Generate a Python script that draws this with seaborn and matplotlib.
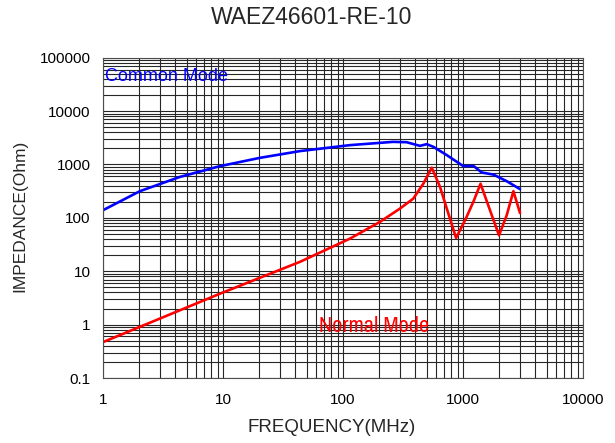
import numpy as np
import pandas as pd
import matplotlib
matplotlib.use("Agg")
import matplotlib.pyplot as plt
import matplotlib.ticker as mticker
from matplotlib import font_manager
import seaborn as sns

# ------------------------------------------------------------
# data (frequency in MHz, impedance in Ohm)
# ------------------------------------------------------------
cm_freq = [1, 2.03, 4.38, 9.44, 20.3, 43.8, 114, 261, 339, 438, 498, 566,
           731, 1006, 1220, 1432, 1790, 2313, 2985]
cm_imp = [139, 316, 585, 930, 1330, 1780, 2300, 2650, 2610, 2230, 2400, 2140,
          1500, 929, 942, 707, 646, 486, 345]

nm_freq = [1, 9.44, 43.8, 114, 203, 298, 385, 467, 549, 643, 755, 875,
           1040, 1220, 1400, 1680, 1995, 2313, 2630, 2985]
nm_imp = [0.47, 3.8, 15, 40.7, 84, 149, 229, 436, 870, 380, 120, 42,
          90, 200, 436, 138, 47, 112, 316, 123]

title = "WAEZ46601-RE-10"
x_label = "FREQUENCY(MHz)"
y_label = "IMPEDANCE(Ohm)"

df = pd.concat([
    pd.DataFrame({"freq": cm_freq, "imp": cm_imp, "mode": "Common Mode"}),
    pd.DataFrame({"freq": nm_freq, "imp": nm_imp, "mode": "Normal Mode"}),
])

sns.set_theme(style="white")
plt.rcParams["font.family"] = ["Liberation Sans", "DejaVu Sans"]

# narrow face for the "Normal Mode" label, if one is installed
names = sorted({f.name for f in font_manager.fontManager.ttflist})
narrow = [n for n in names if "Narrow" in n] + [n for n in names if "Condensed" in n]
narrow_family = [narrow[0], "DejaVu Sans"] if narrow else ["Liberation Sans", "DejaVu Sans"]

fig = plt.figure(figsize=(6.15, 4.43), dpi=100)
ax = fig.add_axes([0.1675, 0.1467, 0.948 - 0.1675, 0.8698 - 0.1467])

sns.lineplot(data=df, x="freq", y="imp", hue="mode",
             palette={"Common Mode": "#0000ff", "Normal Mode": "#ff0000"},
             estimator=None, sort=False, linewidth=1.9, legend=False, ax=ax)

ax.set_xscale("log")
ax.set_yscale("log")
ax.set_xlim(1, 10000)
ax.set_ylim(0.1, 100000)

ax.xaxis.set_major_locator(mticker.LogLocator(base=10, numticks=10))
ax.xaxis.set_minor_locator(mticker.LogLocator(base=10, subs=np.arange(2, 10), numticks=20))
ax.yaxis.set_major_locator(mticker.LogLocator(base=10, numticks=10))
ax.yaxis.set_minor_locator(mticker.LogLocator(base=10, subs=np.arange(2, 10), numticks=20))
ax.xaxis.set_major_formatter(mticker.FuncFormatter(lambda v, p: f"{v:g}"))
ax.yaxis.set_major_formatter(mticker.FuncFormatter(lambda v, p: f"{v:g}"))
ax.xaxis.set_minor_formatter(mticker.NullFormatter())
ax.yaxis.set_minor_formatter(mticker.NullFormatter())

ax.grid(True, which="both", color="0.15", linewidth=0.8)
ax.set_axisbelow(True)
ax.tick_params(which="both", length=0, labelsize=11, colors="black")
ax.tick_params(axis="x", pad=11)
ax.tick_params(axis="y", pad=9)
for s in ax.spines.values():
    s.set_color("0.3")
    s.set_linewidth(0.8)
ax.set_xlabel("")
ax.set_ylabel("")

fig.text(0.507, 0.9616, title, fontsize=16.5, ha="center", va="center")
fig.text(0.54, 0.036, x_label, fontsize=13.5, ha="center", va="center")
fig.text(0.033, 0.512, y_label, fontsize=12.5, ha="center", va="center",
         rotation=90)

ax.text(1.04, 43500, "Common Mode", color="#0000ff", fontsize=13, va="center")
nm_txt = ax.text(63, 0.925, "Normal Mode", color="#ff0000", fontsize=16,
                 va="center", family=narrow_family)

# fit the red label to the width it has in the reference (~110 px)
renderer = fig.canvas.get_renderer()
w = nm_txt.get_window_extent(renderer).width
nm_txt.set_fontsize(16 * 110 / w)

fig.savefig("out.png", dpi=100)
